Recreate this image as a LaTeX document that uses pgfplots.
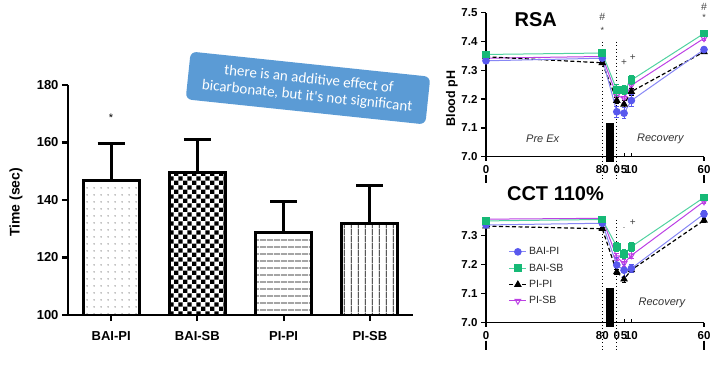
\documentclass[border=0pt]{standalone}
\usepackage{fontspec}
\setmainfont{Liberation Sans}
\newfontfamily\callfont{Carlito}
\usepackage{pgfplots}
\usepackage{pgfplotstable}
\pgfplotsset{compat=1.18}
\usetikzlibrary{patterns,patterns.meta}

\definecolor{cblue}{RGB}{88,88,238}
\definecolor{cbluel}{RGB}{135,135,245}
\definecolor{cgreen}{RGB}{22,185,118}
\definecolor{cgreenl}{RGB}{80,210,160}
\definecolor{cpurp}{RGB}{188,64,228}
\definecolor{callout}{RGB}{91,155,213}

\tikzdeclarepattern{name=sdots, type=uncolored, bottom left={(0pt,0pt)}, top right={(7pt,7pt)}, tile size={(7pt,7pt)}, code={\fill (3.5pt,3.5pt) circle (0.6pt);}}
\tikzdeclarepattern{name=checker, type=uncolored, bottom left={(0pt,0pt)}, top right={(9.2pt,9.2pt)}, tile size={(9.2pt,9.2pt)}, code={\fill (0pt,0pt) rectangle (4.6pt,4.6pt); \fill (4.6pt,4.6pt) rectangle (9.2pt,9.2pt);}}
\tikzdeclarepattern{name=hlines, type=uncolored, bottom left={(0pt,0pt)}, top right={(6.5pt,6.5pt)}, tile size={(6.5pt,6.5pt)}, code={\fill (0pt,2.9pt) rectangle (6.5pt,3.6pt);}}
\tikzdeclarepattern{name=vlines, type=uncolored, bottom left={(0pt,0pt)}, top right={(6.7pt,6.7pt)}, tile size={(6.7pt,6.7pt)}, code={\fill (3pt,0pt) rectangle (3.7pt,6.7pt);}}

% RSA data: x (min), pH, sem
\pgfplotstableread{
x y e
0 7.333 0.006
80 7.342 0.008
90 7.156 0.020
95 7.151 0.020
100 7.195 0.020
150 7.372 0.008
}\rsaBP
\pgfplotstableread{
x y e
0 7.355 0.006
80 7.360 0.008
90 7.232 0.018
95 7.232 0.015
100 7.266 0.015
150 7.428 0.006
}\rsaBS
\pgfplotstableread{
x y e
0 7.347 0.005
80 7.326 0.006
90 7.195 0.012
95 7.182 0.012
100 7.226 0.012
150 7.364 0.005
}\rsaPP
\pgfplotstableread{
x y e
0 7.342 0.006
80 7.348 0.007
90 7.212 0.015
95 7.203 0.015
100 7.248 0.015
150 7.411 0.006
}\rsaPS
% CCT 110% data
\pgfplotstableread{
x y e
0 7.337 0.006
80 7.343 0.008
90 7.199 0.025
95 7.181 0.020
100 7.187 0.015
150 7.375 0.012
}\cctBP
\pgfplotstableread{
x y e
0 7.351 0.006
80 7.356 0.007
90 7.262 0.015
95 7.236 0.015
100 7.262 0.015
150 7.432 0.006
}\cctBS
\pgfplotstableread{
x y e
0 7.333 0.005
80 7.324 0.006
90 7.175 0.010
95 7.150 0.010
100 7.182 0.010
150 7.353 0.006
}\cctPP
\pgfplotstableread{
x y e
0 7.357 0.006
80 7.360 0.006
90 7.225 0.012
95 7.205 0.012
100 7.232 0.012
150 7.418 0.006
}\cctPS

\pgfplotsset{
 sBP/.style={cbluel, line width=1pt, mark=*, mark size=3.3pt, mark options={solid, draw=cblue, fill=cblue}},
 sBS/.style={cgreenl, line width=1pt, mark=square*, mark size=3.3pt, mark options={solid, draw=cgreen, fill=cgreen}},
 sPP/.style={black, line width=1.2pt, dash pattern=on 4pt off 2.5pt, mark=triangle*, mark size=3.3pt, mark options={solid, fill=black}},
 sPS/.style={cpurp, line width=1pt, mark=triangle, mark size=3.3pt, mark options={solid, fill=white, rotate=180}},
 eb/.style={error bars/y dir=both, error bars/y explicit, error bars/error bar style={line width=1pt, solid, #1}, error bars/error mark options={rotate=90, line width=1pt, mark size=2.4pt, solid, #1}},
 barerr/.style={error bars/y dir=plus, error bars/y explicit, error bars/error bar style={line width=3pt, black}, error bars/error mark options={rotate=90, line width=3pt, black, mark size=13.5pt}},
 phaxis/.style={
  anchor=south west, scale only axis, width=218pt,
  xmin=0, xmax=150, ymin=7.0,
  axis x line=bottom, axis y line=left,
  axis line style={-, line width=1.4pt},
  tick style={line width=1.4pt, black},
  major tick length=5pt, tick align=outside,
  xtick={0,80,90,95,100,150}, xticklabels={0,80,0,5,10,60},
  xtick style={draw=none},
  ytick={7.0,7.1,7.2,7.3,7.4,7.5},
  yticklabel style={/pgf/number format/.cd, fixed, fixed zerofill, precision=1},
  ticklabel style={font=\fontsize{11.5}{13}\selectfont\bfseries},
  /pgf/number format/assume math mode=true,
  clip=false,
 },
}

\begin{document}
\begin{tikzpicture}
\useasboundingbox (0pt,0pt) rectangle (726pt,365pt);

% ---------------- Bar chart ----------------
\begin{axis}[
  at={(68pt,50pt)}, anchor=south west, scale only axis, width=345pt, height=230pt,
  xmin=0, xmax=4, ymin=100, ymax=180,
  axis x line=bottom, axis y line=left, axis line style={-, line width=2.2pt},
  xtick={0.5,1.5,2.5,3.5}, xticklabels={BAI-PI,BAI-SB,PI-PI,PI-SB},
  ytick={100,120,140,160,180},
  tick style={line width=2.2pt, black}, major tick length=6pt, tick align=outside,
  ticklabel style={font=\fontsize{13}{15}\selectfont\bfseries},
  xticklabel style={yshift=-7pt},
  /pgf/number format/assume math mode=true,
  ylabel={Time (sec)},
  ylabel style={font=\fontsize{14}{16}\selectfont\bfseries, at={(axis description cs:-0.151,0.49)}, anchor=center},
  ybar, bar width=0.65, bar shift=0pt,
]
\addplot[draw=black, line width=3pt, pattern=sdots, barerr] coordinates {(0.5,146.7) +- (0,13.0)};
\addplot[draw=black, line width=3pt, pattern=checker, barerr] coordinates {(1.5,149.6) +- (0,11.3)};
\addplot[draw=black, line width=3pt, pattern=hlines, barerr] coordinates {(2.5,128.6) +- (0,10.8)};
\addplot[draw=black, line width=3pt, pattern=vlines, barerr] coordinates {(3.5,131.9) +- (0,13.2)};
\node[font=\fontsize{11}{12}\selectfont] at (axis cs:0.5,168.5) {*};
\end{axis}

% ---------------- RSA ----------------
\begin{axis}[phaxis, at={(486pt,208.3pt)}, height=144pt, ymax=7.5]
\addplot[black, line width=1.2pt, dash pattern=on 1.2pt off 2.3pt, forget plot] coordinates {(80,7.40) (80,6.915)};
\addplot[black, line width=1.2pt, dash pattern=on 1.2pt off 2.3pt, forget plot] coordinates {(90,7.40) (90,6.915)};
\addplot[fill=black, draw=none, forget plot] coordinates {(82.4,7.117) (88.1,7.117) (88.1,6.982) (82.4,6.982)} -- cycle;
\addplot[sPS, eb=cpurp] table[x=x, y=y, y error=e] {\rsaPS};
\addplot[sPP, eb=black] table[x=x, y=y, y error=e] {\rsaPP};
\addplot[sBP, eb=cblue] table[x=x, y=y, y error=e] {\rsaBP};
\addplot[sBS, eb=cgreen] table[x=x, y=y, y error=e] {\rsaBS};
\draw[line width=1.4pt] (axis cs:0,7.0) -- ++(0pt,-4pt);
\draw[line width=1.4pt] (axis cs:0,7.0) ++(0pt,-18pt) -- ++(0pt,-8pt);
\draw[line width=1.4pt] (axis cs:150,7.0) -- ++(0pt,-4pt);
\draw[line width=1.4pt] (axis cs:150,7.0) ++(0pt,-18pt) -- ++(0pt,-8pt);
\draw[line width=1pt] (axis cs:95,7.0) -- ++(0pt,4pt);
\draw[line width=1pt] (axis cs:100,7.0) -- ++(0pt,4pt);
\node[font=\fontsize{20}{22}\selectfont\bfseries] at (axis cs:34.2,7.475) {RSA};
\node[rotate=90, font=\fontsize{12.5}{14}\selectfont\bfseries] at (axis cs:-23.4,7.202) {Blood pH};
\node[font=\fontsize{11}{12}\selectfont\itshape, text=black!80] at (axis cs:39,7.0625) {Pre Ex};
\node[font=\fontsize{11}{12}\selectfont\itshape, text=black!80] at (axis cs:120,7.0625) {Recovery};
\node[font=\fontsize{10.5}{12}\selectfont, text=black!75] at (axis cs:80,7.485) {\#};
\node[font=\fontsize{9}{10}\selectfont, text=black!75] at (axis cs:80,7.440) {*};
\node[font=\fontsize{10.5}{12}\selectfont, text=black!75] at (axis cs:150,7.520) {\#};
\node[font=\fontsize{9}{10}\selectfont, text=black!75] at (axis cs:150,7.484) {*};
\node[font=\fontsize{10}{11}\selectfont, text=black!75] at (axis cs:95,7.325) {+};
\node[font=\fontsize{10}{11}\selectfont, text=black!75] at (axis cs:101,7.343) {+};
\end{axis}

% ---------------- CCT 110% ----------------
\begin{axis}[phaxis, at={(486pt,42.3pt)}, height=104.4pt, ymax=7.36,
  legend style={at={(axis cs:15.5,7.267)}, anchor=north west, draw=none, fill=none,
    font=\fontsize{10.5}{12}\selectfont, row sep=3.6pt, inner sep=0pt, text=black!85},
  legend cell align=left]
\addplot[black, line width=1.2pt, dash pattern=on 1.2pt off 2.3pt, forget plot] coordinates {(80,7.355) (80,6.905)};
\addplot[black, line width=1.2pt, dash pattern=on 1.2pt off 2.3pt, forget plot] coordinates {(90,7.355) (90,6.905)};
\addplot[fill=black, draw=none, forget plot] coordinates {(82.4,7.12) (88.1,7.12) (88.1,6.986) (82.4,6.986)} -- cycle;
\addplot[forget plot, sPS, eb=cpurp] table[x=x, y=y, y error=e] {\cctPS};
\addplot[forget plot, sPP, eb=black] table[x=x, y=y, y error=e] {\cctPP};
\addplot[forget plot, sBP, eb=cblue] table[x=x, y=y, y error=e] {\cctBP};
\addplot[forget plot, sBS, eb=cgreen] table[x=x, y=y, y error=e] {\cctBS};
\addlegendimage{sBP}\addlegendentry{BAI-PI}
\addlegendimage{sBS}\addlegendentry{BAI-SB}
\addlegendimage{sPP}\addlegendentry{PI-PI}
\addlegendimage{sPS}\addlegendentry{PI-SB}
\draw[line width=1.4pt] (axis cs:0,7.0) -- ++(0pt,-4pt);
\draw[line width=1.4pt] (axis cs:0,7.0) ++(0pt,-18pt) -- ++(0pt,-9pt);
\draw[line width=1.4pt] (axis cs:150,7.0) -- ++(0pt,-4pt);
\draw[line width=1.4pt] (axis cs:150,7.0) ++(0pt,-18pt) -- ++(0pt,-9pt);
\draw[line width=1pt] (axis cs:95,7.0) -- ++(0pt,4pt);
\draw[line width=1pt] (axis cs:100,7.0) -- ++(0pt,4pt);
\node[font=\fontsize{20}{22}\selectfont\bfseries] at (axis cs:47.8,7.445) {CCT 110\%};
\node[font=\fontsize{11}{12}\selectfont\itshape, text=black!80] at (axis cs:121,7.067) {Recovery};
\node[font=\fontsize{10}{11}\selectfont, text=black!75] at (axis cs:101,7.345) {+};
\node[font=\fontsize{9}{10}\selectfont, text=black!75] at (axis cs:95,7.325) {.};
\end{axis}

% ---------------- Callout ----------------
\node[rotate=-6, fill=callout, rounded corners=6pt, text=white, minimum width=241pt, minimum height=48pt,
  align=center, font=\callfont\fontsize{15}{17}\selectfont, inner sep=2pt] at (308pt,277pt)
  {there is an additive effect of\\bicarbonate, but it's not significant};
\end{tikzpicture}
\end{document}
